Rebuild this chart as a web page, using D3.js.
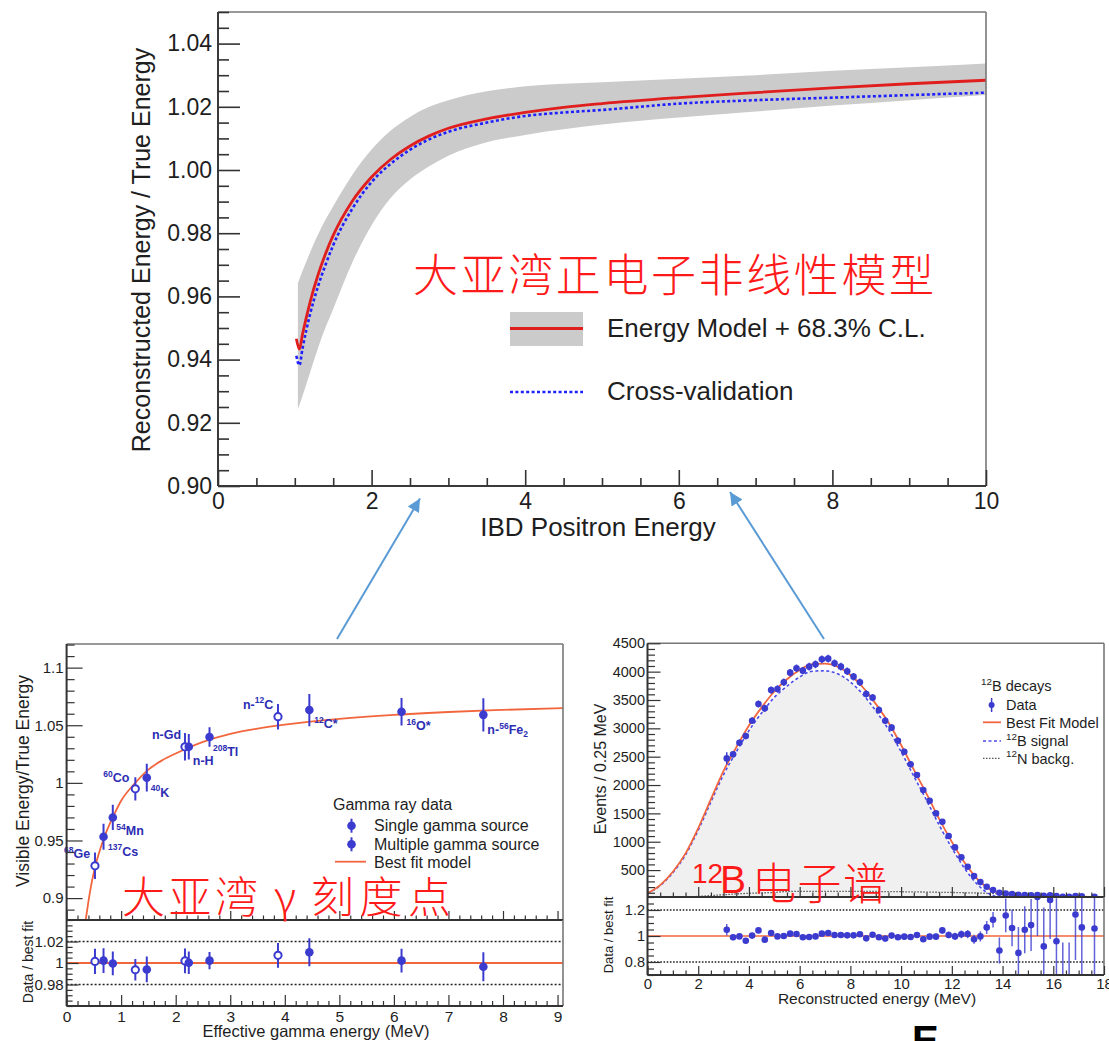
<!DOCTYPE html>
<html>
<head>
<meta charset="utf-8">
<script src="https://cdn.jsdelivr.net/npm/d3@7/dist/d3.min.js"></script>
<style>
  html, body { margin: 0; padding: 0; background: #fff; }
  svg { display: block; }
</style>
</head>
<body>
<svg id="fig" width="1109" height="1041"></svg>
<script>
// ---------- Top panel: positron energy non-linearity model ----------
const posCurveE = [1.02, 1.06, 1.1, 1.2, 1.3, 1.4, 1.5, 1.75, 2.0, 2.25, 2.5, 2.75, 3.0, 3.5, 4.0, 4.5, 5.0, 6.0, 7.0, 8.0, 9.0, 10.0];
const posModel  = [0.9466, 0.9433, 0.9480, 0.9583, 0.9666, 0.9735, 0.9793, 0.9902, 0.9978, 1.0034, 1.0076, 1.0108, 1.0132, 1.0162, 1.0182, 1.0198, 1.0210, 1.0229, 1.0245, 1.0260, 1.0273, 1.0284];
const posCross  = [0.9412, 0.9382, 0.9435, 0.9545, 0.9630, 0.9700, 0.9762, 0.9878, 0.9962, 1.0020, 1.0064, 1.0097, 1.0121, 1.0150, 1.0171, 1.0182, 1.0190, 1.0210, 1.0221, 1.0229, 1.0237, 1.0245];
const bandE  = [1.04, 1.1, 1.2, 1.35, 1.5, 1.75, 2.0, 2.25, 2.5, 2.75, 3.0, 3.5, 4.0, 5.0, 6.0, 7.0, 8.0, 9.0, 10.0];
const bandLo = [0.9243, 0.9285, 0.9360, 0.9470, 0.9560, 0.9708, 0.9825, 0.9912, 0.9970, 1.0012, 1.0045, 1.0088, 1.0111, 1.0144, 1.0166, 1.0185, 1.0204, 1.0221, 1.0237];
const bandHi = [0.9642, 0.9680, 0.9740, 0.9820, 0.9885, 0.9985, 1.0065, 1.0125, 1.0168, 1.0200, 1.0221, 1.0249, 1.0265, 1.0278, 1.0289, 1.0300, 1.0314, 1.0325, 1.0337];
const topXTicks = [0, 2, 4, 6, 8, 10];
const topXLabels = ['0', '2', '4', '6', '8', '10'];
const topYTicks = [0.90, 0.92, 0.94, 0.96, 0.98, 1.00, 1.02, 1.04];
const topYLabels = ['0.90', '0.92', '0.94', '0.96', '0.98', '1.00', '1.02', '1.04'];

// ---------- Bottom left: gamma calibration points ----------
const gammaName  = ['^{68}Ge', '^{137}Cs', '^{54}Mn', '^{60}Co', '^{40}K', 'n-Gd', 'n-H', '^{208}Tl', 'n-^{12}C', '^{12}C*', '^{16}O*', 'n-^{56}Fe_{2}'];
const gammaE     = [0.52, 0.677, 0.847, 1.26, 1.47, 2.17, 2.24, 2.62, 3.875, 4.45, 6.14, 7.64];
const gammaRatio = [0.928, 0.9533, 0.970, 0.9948, 1.0045, 1.0313, 1.0313, 1.0398, 1.0574, 1.0632, 1.0617, 1.059];
const gammaErr   = [0.0115, 0.0113, 0.011, 0.010, 0.012, 0.012, 0.011, 0.0085, 0.011, 0.014, 0.012, 0.0145];
const gammaMulti = [true, false, false, true, false, true, false, false, true, false, false, false];
const gammaToFit    = [1.0015, 1.0022, 0.9996, 0.9937, 0.9940, 1.0019, 1.0003, 1.0022, 1.0071, 1.0100, 1.0022, 0.9965];
const gammaToFitErr = [0.0118, 0.0115, 0.0110, 0.0100, 0.0120, 0.0115, 0.0105, 0.0080, 0.0115, 0.0130, 0.0110, 0.0135];
const gFitE = [0.35, 0.40, 0.45, 0.52, 0.60, 0.68, 0.85, 1.0, 1.25, 1.5, 1.75, 2.0, 2.5, 3.0, 3.5, 4.0, 5.0, 6.0, 7.0, 8.0, 9.1];
const gFitV = [0.881, 0.897, 0.911, 0.9266, 0.940, 0.9515, 0.9704, 0.9845, 0.9995, 1.0115, 1.0195, 1.0255, 1.0355, 1.0425, 1.047, 1.0505, 1.0555, 1.059, 1.0615, 1.0633, 1.0649];
const blXTicks = [0, 1, 2, 3, 4, 5, 6, 7, 8, 9];
const blXLabels = ['0', '1', '2', '3', '4', '5', '6', '7', '8', '9'];
const blYTicks = [0.9, 0.95, 1.0, 1.05, 1.1];
const blYLabels = ['0.9', '0.95', '1', '1.05', '1.1'];
const blRTicks = [0.98, 1.0, 1.02];
const blRLabels = ['0.98', '1', '1.02'];

// ---------- Bottom right: 12B beta spectrum ----------
const bBinE = [3.125, 3.375, 3.625, 3.875, 4.125, 4.375, 4.625, 4.875, 5.125, 5.375,
               5.625, 5.875, 6.125, 6.375, 6.625, 6.875, 7.125, 7.375, 7.625, 7.875,
               8.125, 8.375, 8.625, 8.875, 9.125, 9.375, 9.625, 9.875, 10.125, 10.375,
               10.625, 10.875, 11.125, 11.375, 11.625, 11.875, 12.125, 12.375, 12.625, 12.875,
               13.125, 13.375, 13.625, 13.875, 14.125, 14.375, 14.625, 14.875, 15.125, 15.375,
               15.625, 15.875, 16.125, 16.375, 16.625, 16.875, 17.125, 17.625];
const bCounts = [2470, 2541, 2747, 2865, 3135, 3429, 3353, 3676, 3694, 3812,
                 3982, 4059, 4018, 4088, 4129, 4218, 4229, 4147, 4088, 4006,
                 3912, 3812, 3606, 3541, 3323, 3135, 3012, 2782, 2588, 2365,
                 2176, 1912, 1724, 1500, 1353, 1100, 900, 724, 559, 394,
                 288, 206, 147, 100, 88, 76, 65, 58, 56, 60,
                 48, 55, 40, 30, 28, 42, 38, 30];
const bCountErr = [110, 55, 58, 58, 60, 62, 62, 64, 64, 65,
                   66, 66, 66, 67, 67, 68, 68, 67, 67, 66,
                   66, 65, 64, 63, 62, 60, 58, 56, 54, 52,
                   50, 46, 44, 41, 38, 35, 32, 28, 25, 22,
                   18, 15, 13, 11, 11, 10, 10, 9, 9, 9,
                   8, 8, 8, 7, 7, 7, 7, 6];
const bRatio = [1.048, 0.990, 0.997, 0.964, 1.003, 1.043, 0.972, 1.023, 0.997, 1.000,
                1.018, 1.015, 0.990, 0.992, 0.997, 1.018, 1.023, 1.008, 1.008, 1.005,
                1.005, 1.013, 0.982, 1.010, 0.990, 0.980, 1.003, 0.990, 0.995, 0.992,
                1.008, 0.975, 0.995, 0.995, 1.043, 1.008, 0.997, 1.013, 1.015, 0.975,
                0.997, 1.066, 1.125, 0.888, 1.158, 1.061, 0.870, 1.048, 1.084, 1.300,
                0.920, 1.277, 0.960, 0.620, 0.600, 1.165, 1.066, 1.058];
const bRatioErr = [0.045, 0.022, 0.021, 0.021, 0.020, 0.019, 0.019, 0.018, 0.018, 0.018,
                   0.017, 0.017, 0.017, 0.017, 0.017, 0.016, 0.016, 0.016, 0.017, 0.017,
                   0.017, 0.017, 0.018, 0.018, 0.018, 0.018, 0.019, 0.019, 0.020, 0.020,
                   0.021, 0.022, 0.022, 0.023, 0.024, 0.026, 0.028, 0.030, 0.032, 0.035,
                   0.040, 0.050, 0.060, 0.100, 0.130, 0.140, 0.200, 0.180, 0.200, 0.300,
                   0.300, 0.300, 0.330, 0.330, 0.350, 0.350, 0.400, 0.400];
const bModelE = [0, 0.5, 1, 1.5, 2, 2.5, 3, 3.5, 4, 4.5, 5, 5.5, 6, 6.5, 7, 7.5, 8, 8.5, 9, 9.5,
                 10, 10.5, 11, 11.5, 12, 12.5, 13, 13.5, 14, 14.5, 15, 16, 17, 18];
const bBestFit = [90, 235, 470, 794, 1240, 1750, 2250, 2665, 3050, 3370, 3650, 3865, 4030, 4132, 4140, 4087, 3942, 3720, 3432, 3102,
                  2706, 2272, 1847, 1402, 997, 633, 346, 162, 90, 62, 50, 40, 32, 25];
const bSignal  = [88, 227, 455, 769, 1205, 1700, 2185, 2585, 2960, 3272, 3545, 3743, 3906, 4007, 4015, 3962, 3817, 3596, 3310, 2982,
                  2588, 2157, 1735, 1294, 892, 533, 251, 74, 12, 2, 2, 1, 1, 1];
const bBackg   = [2, 8, 15, 25, 35, 50, 65, 80, 90, 98, 105, 122, 124, 125, 125, 125, 125, 124, 122, 120,
                  118, 115, 112, 108, 105, 100, 95, 88, 78, 60, 48, 39, 31, 24];
const brXTicks = [0, 2, 4, 6, 8, 10, 12, 14, 16, 18];
const brXLabels = ['0', '2', '4', '6', '8', '10', '12', '14', '16', '18'];
const brYTicks = [500, 1000, 1500, 2000, 2500, 3000, 3500, 4000, 4500];
const brYLabels = ['500', '1000', '1500', '2000', '2500', '3000', '3500', '4000', '4500'];
const brRTicks = [0.8, 1.0, 1.2];
const brRLabels = ['0.8', '1', '1.2'];

// ---------- shared styling ----------
const FONT = '"Liberation Sans", Arial, Helvetica, sans-serif';
const CJK = '"Noto Sans CJK SC", "Noto Sans CJK TC", sans-serif';
const INK = '#1e1e1e';
const TICK = '#333';
const PT = '#3b3bcf';
const FIT = '#f2663e';
const ZH_RED = '#ff1a1a';

const svg = d3.select('#fig');
const defs = svg.append('defs');

function clip(id, x, y, w, h) {
  defs.append('clipPath').attr('id', id).append('rect')
    .attr('x', x).attr('y', y).attr('width', w).attr('height', h);
  return `url(#${id})`;
}

// ROOT-like inward ticks built from two d3 axes (minor + major)
function rootAxis(parent, o) {
  const left = o.orient === 'left';
  const mk = left ? d3.axisLeft : d3.axisBottom;
  const tr = left ? `translate(${o.at},0)` : `translate(0,${o.at})`;
  const minorVals = o.minor.filter(v => !o.major.some(m => Math.abs(m - v) < 1e-9));
  const gMin = parent.append('g').attr('transform', tr)
    .call(mk(o.scale).tickValues(minorVals).tickSize(-o.minorLen).tickFormat(''));
  gMin.select('.domain').remove();
  const fmt = d => {
    if (!o.labels) return '';
    const i = o.major.findIndex(m => Math.abs(m - d) < 1e-9);
    return i >= 0 ? o.labels[i] : '';
  };
  const gMaj = parent.append('g').attr('transform', tr)
    .call(mk(o.scale).tickValues(o.major).tickSize(-o.majorLen).tickPadding(o.pad || 4).tickFormat(fmt));
  gMaj.select('.domain').remove();
  [gMin, gMaj].forEach(g => g.selectAll('line').attr('stroke', TICK).attr('stroke-width', o.tickWidth || 1.2));
  gMaj.selectAll('text').attr('font-family', FONT).attr('font-size', o.size || 14).attr('fill', INK);
  return gMaj;
}

// text with ROOT-style ^{sup} and _{sub} markup
function rich(g, x, y, str, size, attrs = {}) {
  const t = g.append('text').attr('x', x).attr('y', y)
    .attr('font-family', FONT).attr('font-size', size);
  Object.entries(attrs).forEach(([k, v]) => t.attr(k, v));
  const re = /\^\{([^}]*)\}|_\{([^}]*)\}|([^^_]+)/g;
  let m, shift = 0;
  while ((m = re.exec(str))) {
    let target = 0, fs = size, txt;
    if (m[1] !== undefined) { target = -0.42 * size; fs = size * 0.68; txt = m[1]; }
    else if (m[2] !== undefined) { target = 0.28 * size; fs = size * 0.68; txt = m[2]; }
    else { txt = m[3]; }
    t.append('tspan').attr('dy', target - shift).attr('font-size', fs).text(txt);
    shift = target;
  }
  return t;
}

function frameLines(g, x0, y0, x1, y1, darkLeftBottom) {
  g.append('line').attr('x1', x0).attr('x2', x1).attr('y1', y0).attr('y2', y0).attr('stroke', '#777').attr('stroke-width', 1.6);
  g.append('line').attr('x1', x1).attr('x2', x1).attr('y1', y0).attr('y2', y1).attr('stroke', '#777').attr('stroke-width', 1.6);
  g.append('line').attr('x1', x0).attr('x2', x0).attr('y1', y0).attr('y2', y1).attr('stroke', darkLeftBottom).attr('stroke-width', 2);
  g.append('line').attr('x1', x0).attr('x2', x1).attr('y1', y1).attr('y2', y1).attr('stroke', darkLeftBottom).attr('stroke-width', 2);
}

// =====================================================================
// Top panel
// =====================================================================
(function topPanel() {
  const g = svg.append('g');
  const x = d3.scaleLinear().domain([0, 10]).range([218, 986]);
  const y = d3.scaleLinear().domain([0.90, 1.05]).range([486, 12]);
  const cp = clip('clipTop', 218, 12, 768, 474);

  const band = bandE.map((e, i) => ({ e, lo: bandLo[i], hi: bandHi[i] }));
  g.append('path').attr('clip-path', cp)
    .attr('d', d3.area().x(d => x(d.e)).y0(d => y(d.lo)).y1(d => y(d.hi)).curve(d3.curveMonotoneX)(band))
    .attr('fill', '#cbcbcb');

  const line = d3.line().x(d => x(d[0])).y(d => y(d[1])).curve(d3.curveMonotoneX);
  g.append('path').attr('clip-path', cp)
    .attr('d', line(posCurveE.map((e, i) => [e, posCross[i]])))
    .attr('fill', 'none').attr('stroke', '#1f1fff').attr('stroke-width', 2.6).attr('stroke-dasharray', '3,2.4');
  g.append('path').attr('clip-path', cp)
    .attr('d', line(posCurveE.map((e, i) => [e, posModel[i]])))
    .attr('fill', 'none').attr('stroke', '#e01e1e').attr('stroke-width', 2.8);

  frameLines(g, 218, 12, 986, 486, '#3a3a3a');

  rootAxis(g, { orient: 'left', scale: y, at: 218, major: topYTicks, labels: topYLabels,
    minor: d3.range(0.90, 1.0501, 0.005).map(v => +v.toFixed(4)), majorLen: 22, minorLen: 11, pad: 6, size: 23, tickWidth: 1.6 });
  rootAxis(g, { orient: 'bottom', scale: x, at: 486, major: topXTicks, labels: topXLabels,
    minor: d3.range(0, 10.01, 0.5).map(v => +v.toFixed(2)), majorLen: 16, minorLen: 8, pad: 7, size: 23, tickWidth: 1.6 });

  g.append('text').attr('transform', 'translate(150,250) rotate(-90)').attr('text-anchor', 'middle')
    .attr('font-family', FONT).attr('font-size', 25).attr('fill', INK).text('Reconstructed Energy / True Energy');
  g.append('text').attr('x', 598).attr('y', 536).attr('text-anchor', 'middle')
    .attr('font-family', FONT).attr('font-size', 26).attr('fill', INK).text('IBD Positron Energy');

  // legend
  g.append('rect').attr('x', 510).attr('y', 312).attr('width', 73).attr('height', 34).attr('fill', '#cbcbcb');
  g.append('line').attr('x1', 510).attr('x2', 583).attr('y1', 328.5).attr('y2', 328.5).attr('stroke', '#e01e1e').attr('stroke-width', 2.8);
  g.append('line').attr('x1', 510).attr('x2', 583).attr('y1', 392).attr('y2', 392)
    .attr('stroke', '#1f1fff').attr('stroke-width', 2.6).attr('stroke-dasharray', '3,2.4');
  g.append('text').attr('x', 607).attr('y', 337).attr('font-family', FONT).attr('font-size', 26).attr('fill', INK)
    .text('Energy Model + 68.3% C.L.');
  g.append('text').attr('x', 607).attr('y', 400).attr('font-family', FONT).attr('font-size', 26).attr('fill', INK)
    .text('Cross-validation');

  g.append('text').attr('x', 413).attr('y', 272).attr('dominant-baseline', 'central')
    .attr('font-family', CJK).attr('font-weight', 300).attr('font-size', 45).attr('fill', ZH_RED)
    .attr('textLength', 521).attr('lengthAdjust', 'spacing').text('大亚湾正电子非线性模型');
})();

// =====================================================================
// Bottom left: gamma calibration
// =====================================================================
(function gammaPanel() {
  const g = svg.append('g');
  const X0 = 66.6, X1 = 563, Y0 = 644, YS = 920, Y1 = 1006;
  const x = d3.scaleLinear().domain([0, 9.1]).range([X0, X1]);
  const y = d3.scaleLinear().domain([0.881, 1.1205]).range([YS, Y0]);
  const yr = d3.scaleLinear().domain([0.96, 1.04]).range([Y1, YS]);
  const cpMain = clip('clipGammaMain', X0, Y0, X1 - X0, YS - Y0);
  const cpRat = clip('clipGammaRatio', X0, YS, X1 - X0, Y1 - YS);

  // best-fit curve
  g.append('path').attr('clip-path', cpMain)
    .attr('d', d3.line().x(d => x(d[0])).y(d => y(d[1])).curve(d3.curveMonotoneX)(gFitE.map((e, i) => [e, gFitV[i]])))
    .attr('fill', 'none').attr('stroke', FIT).attr('stroke-width', 1.8);

  function points(gg, ys, vals, errs) {
    gammaE.forEach((e, i) => {
      gg.append('line').attr('x1', x(e)).attr('x2', x(e))
        .attr('y1', ys(vals[i] - errs[i])).attr('y2', ys(vals[i] + errs[i]))
        .attr('stroke', PT).attr('stroke-width', 2);
      if (gammaMulti[i]) {
        gg.append('circle').attr('cx', x(e)).attr('cy', ys(vals[i])).attr('r', 3.6)
          .attr('fill', '#fff').attr('stroke', PT).attr('stroke-width', 2);
      } else {
        gg.append('circle').attr('cx', x(e)).attr('cy', ys(vals[i])).attr('r', 4.3).attr('fill', PT);
      }
    });
  }
  const gm = g.append('g').attr('clip-path', cpMain);
  points(gm, y, gammaRatio, gammaErr);

  // source labels beside each point
  const labelAt = [[-31, -8], [4.5, 19], [3.5, 18], [-32, -7], [4, 19], [-33, -8], [4, 18], [3.5, 19], [-35, -8], [5, 18], [5, 18], [4, 19]];
  gammaName.forEach((n, i) => {
    rich(g, x(gammaE[i]) + labelAt[i][0], y(gammaRatio[i]) + labelAt[i][1], n, 12.5,
      { 'font-weight': 'bold', fill: '#2d2db4' });
  });

  // ratio panel
  [1.02, 0.98].forEach(v => g.append('line').attr('x1', X0).attr('x2', X1).attr('y1', yr(v)).attr('y2', yr(v))
    .attr('stroke', '#222').attr('stroke-width', 1.3).attr('stroke-dasharray', '2,2'));
  g.append('line').attr('x1', X0).attr('x2', X1).attr('y1', yr(1)).attr('y2', yr(1)).attr('stroke', FIT).attr('stroke-width', 1.8);
  const gr = g.append('g').attr('clip-path', cpRat);
  points(gr, yr, gammaToFit, gammaToFitErr);

  // frames and axes
  frameLines(g, X0, Y0, X1, YS, '#333');
  g.append('line').attr('x1', X1).attr('x2', X1).attr('y1', YS).attr('y2', Y1).attr('stroke', '#777').attr('stroke-width', 1.6);
  g.append('line').attr('x1', X0).attr('x2', X0).attr('y1', YS).attr('y2', Y1).attr('stroke', '#333').attr('stroke-width', 2);
  g.append('line').attr('x1', X0).attr('x2', X1).attr('y1', Y1).attr('y2', Y1).attr('stroke', '#333').attr('stroke-width', 2);

  const xMinor = d3.range(0, 9.01, 0.2).map(v => +v.toFixed(2));
  rootAxis(g, { orient: 'left', scale: y, at: X0, major: blYTicks, labels: blYLabels,
    minor: d3.range(0.89, 1.1201, 0.01).map(v => +v.toFixed(3)), majorLen: 16, minorLen: 8, pad: 3, size: 15 });
  rootAxis(g, { orient: 'bottom', scale: x, at: YS, major: blXTicks, labels: null,
    minor: xMinor, majorLen: 9, minorLen: 4.5 });
  rootAxis(g, { orient: 'left', scale: yr, at: X0, major: blRTicks, labels: blRLabels,
    minor: d3.range(0.96, 1.0401, 0.005).map(v => +v.toFixed(3)), majorLen: 12, minorLen: 6, pad: 3, size: 15 });
  rootAxis(g, { orient: 'bottom', scale: x, at: Y1, major: blXTicks, labels: blXLabels,
    minor: xMinor, majorLen: 11, minorLen: 5, pad: 4.5, size: 15.5 });

  g.append('text').attr('transform', 'translate(29,781) rotate(-90)').attr('text-anchor', 'middle')
    .attr('font-family', FONT).attr('font-size', 17.5).attr('fill', INK).text('Visible Energy/True Energy');
  g.append('text').attr('transform', 'translate(33,962) rotate(-90)').attr('text-anchor', 'middle')
    .attr('font-family', FONT).attr('font-size', 14).attr('fill', INK).text('Data / best fit');
  g.append('text').attr('x', 316).attr('y', 1037).attr('text-anchor', 'middle')
    .attr('font-family', FONT).attr('font-size', 16.5).attr('fill', INK).text('Effective gamma energy (MeV)');

  // legend
  const lg = g.append('g').attr('font-family', FONT).attr('font-size', 16).attr('fill', INK);
  lg.append('text').attr('x', 333).attr('y', 810).text('Gamma ray data');
  [[825.7, 'Single gamma source'], [844.3, 'Multiple gamma source']].forEach(([ly, t]) => {
    lg.append('line').attr('x1', 351.5).attr('x2', 351.5).attr('y1', ly - 7).attr('y2', ly + 7).attr('stroke', PT).attr('stroke-width', 2);
    lg.append('circle').attr('cx', 351.5).attr('cy', ly).attr('r', 4.3).attr('fill', PT);
    lg.append('text').attr('x', 374).attr('y', ly + 5.5).text(t);
  });
  lg.append('line').attr('x1', 335).attr('x2', 366).attr('y1', 861.7).attr('y2', 861.7).attr('stroke', FIT).attr('stroke-width', 1.8);
  lg.append('text').attr('x', 374).attr('y', 867.5).text('Best fit model');

  // Chinese caption
  const zh = g.append('g').attr('font-family', CJK).attr('font-weight', 300).attr('font-size', 43).attr('fill', ZH_RED);
  zh.append('text').attr('x', 122).attr('y', 894).attr('dominant-baseline', 'central')
    .attr('textLength', 136).attr('lengthAdjust', 'spacing').text('大亚湾');
  zh.append('text').attr('x', 274).attr('y', 894).attr('dominant-baseline', 'central').text('γ');
  zh.append('text').attr('x', 311).attr('y', 894).attr('dominant-baseline', 'central')
    .attr('textLength', 140).attr('lengthAdjust', 'spacing').text('刻度点');
})();

// =====================================================================
// Bottom right: 12B spectrum
// =====================================================================
(function boronPanel() {
  const g = svg.append('g');
  const X0 = 647.5, X1 = 1104, Y0 = 643.3, YS = 897, Y1 = 975;
  const x = d3.scaleLinear().domain([0, 18]).range([X0, X1]);
  const y = d3.scaleLinear().domain([25, 4500]).range([YS, Y0]);
  const yr = d3.scaleLinear().domain([0.7, 1.3]).range([Y1, YS]);
  const cpMain = clip('clipBMain', X0, Y0, X1 - X0, YS - Y0);
  const cpRat = clip('clipBRatio', X0, YS, X1 - X0, Y1 - YS);

  const sig = bModelE.map((e, i) => [e, bSignal[i]]);
  g.append('path').attr('clip-path', cpMain)
    .attr('d', d3.area().x(d => x(d[0])).y0(YS).y1(d => y(d[1])).curve(d3.curveMonotoneX)(sig))
    .attr('fill', '#f0f0f0');

  const line = d3.line().x(d => x(d[0])).y(d => y(d[1])).curve(d3.curveMonotoneX);
  g.append('path').attr('clip-path', cpMain).attr('d', line(bModelE.map((e, i) => [e, bBackg[i]])))
    .attr('fill', 'none').attr('stroke', '#555').attr('stroke-width', 1.3).attr('stroke-dasharray', '1.5,1.5');
  g.append('path').attr('clip-path', cpMain).attr('d', line(sig))
    .attr('fill', 'none').attr('stroke', '#4b4bea').attr('stroke-width', 1.6).attr('stroke-dasharray', '3,2.5');
  g.append('path').attr('clip-path', cpMain).attr('d', line(bModelE.map((e, i) => [e, bBestFit[i]])))
    .attr('fill', 'none').attr('stroke', FIT).attr('stroke-width', 1.8);

  const gm = g.append('g').attr('clip-path', cpMain);
  bBinE.forEach((e, i) => {
    gm.append('line').attr('x1', x(e)).attr('x2', x(e))
      .attr('y1', y(bCounts[i] - bCountErr[i])).attr('y2', y(bCounts[i] + bCountErr[i]))
      .attr('stroke', PT).attr('stroke-width', 1.5);
    gm.append('circle').attr('cx', x(e)).attr('cy', y(bCounts[i])).attr('r', 3.3).attr('fill', PT);
  });

  // ratio panel
  [1.2, 0.8].forEach(v => g.append('line').attr('x1', X0).attr('x2', X1).attr('y1', yr(v)).attr('y2', yr(v))
    .attr('stroke', '#222').attr('stroke-width', 1.3).attr('stroke-dasharray', '1.6,1.6'));
  g.append('line').attr('x1', X0).attr('x2', X1).attr('y1', yr(1)).attr('y2', yr(1)).attr('stroke', FIT).attr('stroke-width', 1.6);
  const gr = g.append('g').attr('clip-path', cpRat);
  bBinE.forEach((e, i) => {
    gr.append('line').attr('x1', x(e)).attr('x2', x(e))
      .attr('y1', yr(bRatio[i] - bRatioErr[i])).attr('y2', yr(bRatio[i] + bRatioErr[i]))
      .attr('stroke', PT).attr('stroke-width', 1.5).attr('stroke-opacity', 0.8);
    gr.append('circle').attr('cx', x(e)).attr('cy', yr(bRatio[i])).attr('r', 3.3).attr('fill', PT);
  });

  frameLines(g, X0, Y0, X1, YS, '#333');
  g.append('line').attr('x1', X1).attr('x2', X1).attr('y1', YS).attr('y2', Y1).attr('stroke', '#777').attr('stroke-width', 1.6);
  g.append('line').attr('x1', X0).attr('x2', X0).attr('y1', YS).attr('y2', Y1).attr('stroke', '#333').attr('stroke-width', 2);
  g.append('line').attr('x1', X0).attr('x2', X1).attr('y1', Y1).attr('y2', Y1).attr('stroke', '#333').attr('stroke-width', 2);

  const xMinor = d3.range(0, 18.01, 0.5).map(v => +v.toFixed(2));
  rootAxis(g, { orient: 'left', scale: y, at: X0, major: brYTicks, labels: brYLabels,
    minor: d3.range(100, 4501, 100), majorLen: 13, minorLen: 7.5, pad: 2.5, size: 14.5 });
  rootAxis(g, { orient: 'bottom', scale: x, at: YS, major: brXTicks, labels: null,
    minor: xMinor, majorLen: 10, minorLen: 4.5 });
  rootAxis(g, { orient: 'left', scale: yr, at: X0, major: brRTicks, labels: brRLabels,
    minor: d3.range(0.7, 1.3001, 0.05).map(v => +v.toFixed(2)), majorLen: 13, minorLen: 6.5, pad: 2.5, size: 14.5 });
  rootAxis(g, { orient: 'bottom', scale: x, at: Y1, major: brXTicks, labels: brXLabels,
    minor: xMinor, majorLen: 9, minorLen: 4.5, pad: 3.5, size: 15 });

  g.append('text').attr('transform', 'translate(606,769) rotate(-90)').attr('text-anchor', 'middle')
    .attr('font-family', FONT).attr('font-size', 16).attr('fill', INK).text('Events / 0.25 MeV');
  g.append('text').attr('transform', 'translate(613,935) rotate(-90)').attr('text-anchor', 'middle')
    .attr('font-family', FONT).attr('font-size', 13).attr('fill', INK).text('Data / best fit');
  g.append('text').attr('x', 877).attr('y', 1004).attr('text-anchor', 'middle')
    .attr('font-family', FONT).attr('font-size', 15.5).attr('fill', INK).text('Reconstructed energy (MeV)');

  // legend
  const lg = g.append('g');
  rich(lg, 981, 691, '^{12}B decays', 14.5, { fill: INK });
  lg.append('line').attr('x1', 991.6).attr('x2', 991.6).attr('y1', 698).attr('y2', 712).attr('stroke', PT).attr('stroke-width', 1.5);
  lg.append('circle').attr('cx', 991.6).attr('cy', 705).attr('r', 3).attr('fill', PT);
  lg.append('text').attr('x', 1006).attr('y', 710).attr('font-family', FONT).attr('font-size', 14.5).attr('fill', INK).text('Data');
  lg.append('line').attr('x1', 983).attr('x2', 1001).attr('y1', 722.3).attr('y2', 722.3).attr('stroke', FIT).attr('stroke-width', 1.8);
  lg.append('text').attr('x', 1006).attr('y', 727.5).attr('font-family', FONT).attr('font-size', 14.5).attr('fill', INK).text('Best Fit Model');
  lg.append('line').attr('x1', 983).attr('x2', 1001).attr('y1', 741).attr('y2', 741)
    .attr('stroke', '#4b4bea').attr('stroke-width', 1.6).attr('stroke-dasharray', '3,2.5');
  rich(lg, 1006, 746, '^{12}B signal', 14.5, { fill: INK });
  lg.append('line').attr('x1', 983).attr('x2', 1001).attr('y1', 758.3).attr('y2', 758.3)
    .attr('stroke', '#555').attr('stroke-width', 1.3).attr('stroke-dasharray', '1.5,1.5');
  rich(lg, 1006, 763.5, '^{12}N backg.', 14.5, { fill: INK });

  // caption
  g.append('text').attr('x', 692).attr('y', 883).attr('font-family', FONT).attr('font-size', 28).attr('fill', ZH_RED).text('12');
  g.append('text').attr('x', 720).attr('y', 893).attr('font-family', FONT).attr('font-size', 39).attr('fill', ZH_RED).text('B');
  g.append('text').attr('x', 752).attr('y', 881).attr('dominant-baseline', 'central')
    .attr('font-family', CJK).attr('font-weight', 300).attr('font-size', 44).attr('fill', ZH_RED)
    .attr('textLength', 135).attr('lengthAdjust', 'spacing').text('电子谱');
})();

// =====================================================================
// Connecting arrows and the page letter at the bottom
// =====================================================================
defs.append('marker').attr('id', 'arrowHead').attr('viewBox', '0 0 10 10')
  .attr('refX', 10).attr('refY', 5).attr('markerUnits', 'userSpaceOnUse')
  .attr('markerWidth', 16).attr('markerHeight', 13).attr('orient', 'auto')
  .append('path').attr('d', 'M0,0 L10,5 L0,10 z').attr('fill', '#5b9bd5');
[[337, 639, 420, 498.5], [824, 639, 730, 492]].forEach(([x1, y1, x2, y2]) => {
  svg.append('line').attr('x1', x1).attr('y1', y1).attr('x2', x2).attr('y2', y2)
    .attr('stroke', '#5b9bd5').attr('stroke-width', 2).attr('marker-end', 'url(#arrowHead)');
});
svg.append('text').attr('x', 912).attr('y', 1054).attr('font-family', FONT).attr('font-weight', 'bold')
  .attr('font-size', 40).attr('fill', '#000').text('E');
</script>
</body>
</html>
